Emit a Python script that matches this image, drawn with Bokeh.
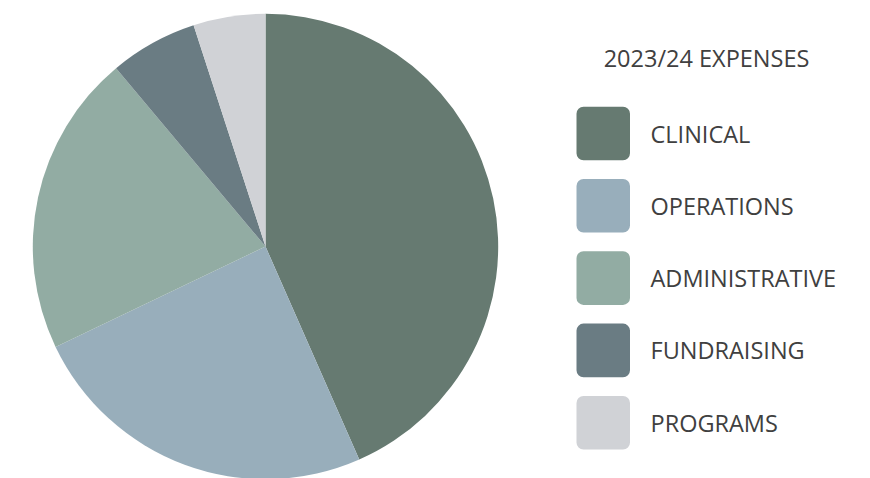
import math
from bokeh.plotting import figure
from bokeh.models import Range1d, ColumnDataSource
from bokeh.core.properties import value
from bokeh.embed import file_html
from bokeh.resources import INLINE

# Data
title = "2023/24 EXPENSES"
categories = ["CLINICAL", "OPERATIONS", "ADMINISTRATIVE", "FUNDRAISING", "PROGRAMS"]
shares = [43.4, 24.5, 21.0, 6.1, 5.0]
colors = ["#667a71", "#98aebb", "#92aca3", "#6a7c83", "#d0d2d6"]

W, H = 870, 478
FONT = "Open Sans"
TEXT_COLOR = "#404040"

p = figure(width=W, height=H, output_backend="svg", toolbar_location=None,
           x_range=Range1d(0, W), y_range=Range1d(0, H),
           min_border=0, outline_line_color=None)
p.axis.visible = False
p.grid.visible = False
p.background_fill_color = "white"
p.border_fill_color = "white"

def sy(y):
    return H - y

# Pie
total = sum(shares)
starts, ends = [], []
cum = 0.0
for s in shares:
    starts.append(math.pi / 2 - cum / total * 2 * math.pi)
    cum += s
    ends.append(math.pi / 2 - cum / total * 2 * math.pi)

src = ColumnDataSource(dict(start=starts, end=ends, color=colors, cat=categories, share=shares))
cx, cy, r = 265, sy(246), 232.7
p.wedge(x=cx, y=cy, radius=r, start_angle="start", end_angle="end",
        direction="clock", fill_color="color", line_color=None, source=src)

# Legend
y0, step = 133, 72.3
ys = [sy(y0 + i * step) for i in range(len(categories))]
half = 26.8
lsrc = ColumnDataSource(dict(left=[576] * len(categories), right=[629.5] * len(categories),
                             top=[y + half for y in ys], bottom=[y - half for y in ys],
                             color=colors, ty=ys, tx=[650] * len(categories), label=categories))
p.quad(left="left", right="right", top="top", bottom="bottom", fill_color="color",
       line_color=None, border_radius=7, source=lsrc)
p.text(x="tx", y="ty", text="label", source=lsrc, text_font=value(FONT),
       text_font_size="23.5px", text_color=TEXT_COLOR, text_baseline="middle", text_align="left")

p.text(x=[706], y=[sy(57)], text=[title], text_font=value(FONT), text_font_size="23.5px",
       text_color=TEXT_COLOR, text_baseline="middle", text_align="center")

open("out.html", "w").write(file_html(p, INLINE))
